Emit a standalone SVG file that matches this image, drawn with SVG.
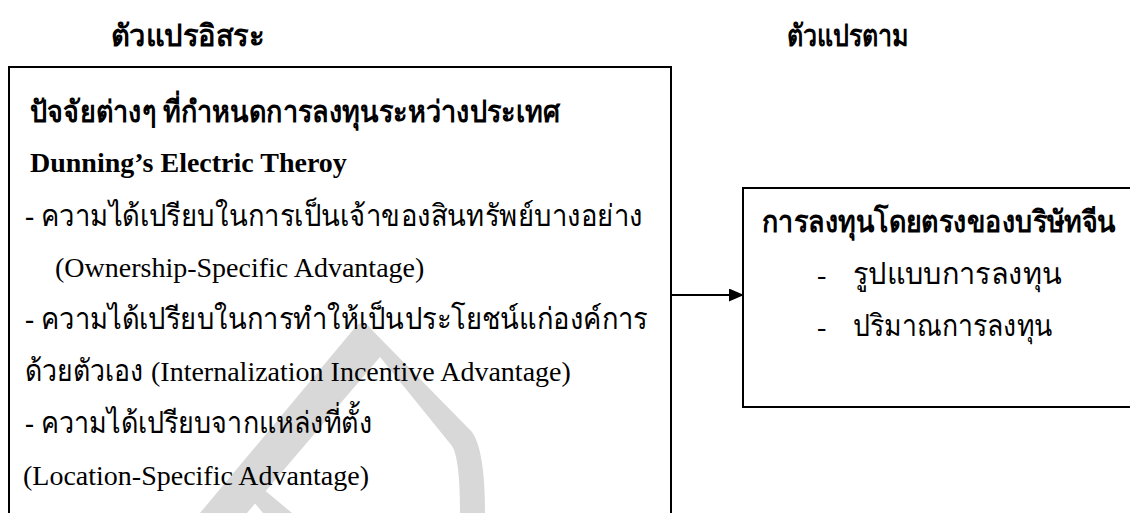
<svg xmlns="http://www.w3.org/2000/svg" width="1130" height="513" viewBox="0 0 1130 513">
  <defs>
    <style>
      .t { font-family: "Liberation Serif", serif; font-size: 28px; fill: #000; }
      .th { font-family: "Liberation Serif", "Noto Sans", serif; font-size: 30px; fill: #000; }
      .b { font-weight: bold; }
      .box { fill: none; stroke: #000; stroke-width: 2; }
      .wm { fill: #d8d8d8; stroke: none; }
      .conn { stroke: #000; stroke-width: 2; fill: none; }
    </style>
    <marker id="arr" markerWidth="15" markerHeight="13" refX="14" refY="6.5" orient="auto" markerUnits="userSpaceOnUse">
      <path d="M0,0 L15,6.5 L0,13 Z" fill="#000"/>
    </marker>
  </defs>
  <rect width="1130" height="513" fill="#fff"/>
  <g id="watermark">
    <path class="wm" d="M200,513 L353,330 Q362,316 372,330 L472,432 Q485,450 485,513 L460,513 Q460,458 452,446 L380,357 L247,513 Z"/>
    <path class="wm" d="M252,500 L262,488 L292,513 L263,513 Z"/>
  </g>
  <g id="headers">
    <text class="th b" x="111" y="46" textLength="153" lengthAdjust="spacingAndGlyphs">ตัวแปรอิสระ</text>
    <text class="th b" x="787" y="46" textLength="122" lengthAdjust="spacingAndGlyphs">ตัวแปรตาม</text>
  </g>
  <g id="independent">
    <path class="box" d="M9 514 L9 67 L671 67 L671 514"/>
    <text class="th b" x="30" y="122" textLength="530" lengthAdjust="spacingAndGlyphs">ปัจจัยต่างๆ ที่กำหนดการลงทุนระหว่างประเทศ</text>
    <text class="t b" x="30" y="172">Dunning’s Electric Theroy</text>
    <text class="th" x="25" y="226" textLength="618" lengthAdjust="spacingAndGlyphs">- ความได้เปรียบในการเป็นเจ้าของสินทรัพย์บางอย่าง</text>
    <text class="t" x="55" y="277">(Ownership-Specific Advantage)</text>
    <text class="th" x="25" y="329" textLength="623" lengthAdjust="spacingAndGlyphs">-  ความได้เปรียบในการทำให้เป็นประโยชน์แก่องค์การ</text>
    <text class="th" x="25" y="381" textLength="118" lengthAdjust="spacingAndGlyphs">ด้วยตัวเอง</text>
    <text class="t" x="151" y="381">(Internalization Incentive Advantage)</text>
    <text class="th" x="25" y="433" textLength="347" lengthAdjust="spacingAndGlyphs">- ความได้เปรียบจากแหล่งที่ตั้ง</text>
    <text class="t" x="23" y="485">(Location-Specific Advantage)</text>
  </g>
  <g id="connectors">
    <line class="conn" x1="672" y1="295" x2="743" y2="295" marker-end="url(#arr)"/>
  </g>
  <g id="dependent">
    <path class="box" d="M1131 188 L743 188 L743 407 L1131 407"/>
    <text class="th b" transform="translate(762,232) scale(0.85,1)" x="0" y="0" textLength="416" lengthAdjust="spacingAndGlyphs">การลงทุนโดยตรงของบริษัทจีน</text>
    <text class="t" x="817" y="284">-</text>
    <text class="th" x="853" y="284" textLength="209" lengthAdjust="spacingAndGlyphs">รูปแบบการลงทุน</text>
    <text class="t" x="817" y="336">-</text>
    <text class="th" x="853" y="336" textLength="200" lengthAdjust="spacingAndGlyphs">ปริมาณการลงทุน</text>
  </g>
</svg>
